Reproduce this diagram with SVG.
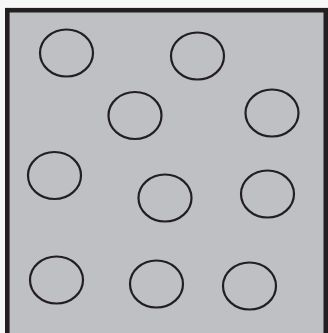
<svg xmlns="http://www.w3.org/2000/svg" width="328" height="333" viewBox="0 0 328 333">
<style>
.c{fill:none;stroke:#231f20;stroke-width:2.2}
</style>
<rect width="328" height="333" fill="#f7f7f7"/>
<g id="box"><rect x="7.3" y="10.2" width="318.5" height="330" fill="#bfc0c4" stroke="#231f20" stroke-width="4.6"/></g>
<g id="circles">
<g id="c1"><ellipse class="c" cx="66.5" cy="53" rx="26.5" ry="23.5"/></g>
<g id="c2"><ellipse class="c" cx="197.5" cy="56" rx="26.5" ry="23.5"/></g>
<g id="c3"><ellipse class="c" cx="135" cy="115.5" rx="26.5" ry="23.5"/></g>
<g id="c4"><ellipse class="c" cx="272" cy="113" rx="26.5" ry="23.5"/></g>
<g id="c5"><ellipse class="c" cx="54.5" cy="175.5" rx="26.5" ry="23.5"/></g>
<g id="c6"><ellipse class="c" cx="165" cy="198" rx="26.5" ry="23.5"/></g>
<g id="c7"><ellipse class="c" cx="267.5" cy="194" rx="26.5" ry="23.5"/></g>
<g id="c8"><ellipse class="c" cx="56.5" cy="280" rx="26.5" ry="23.5"/></g>
<g id="c9"><ellipse class="c" cx="156.5" cy="284" rx="26.5" ry="23.5"/></g>
<g id="c10"><ellipse class="c" cx="249.5" cy="286" rx="26.5" ry="23.5"/></g>
</g>
</svg>
